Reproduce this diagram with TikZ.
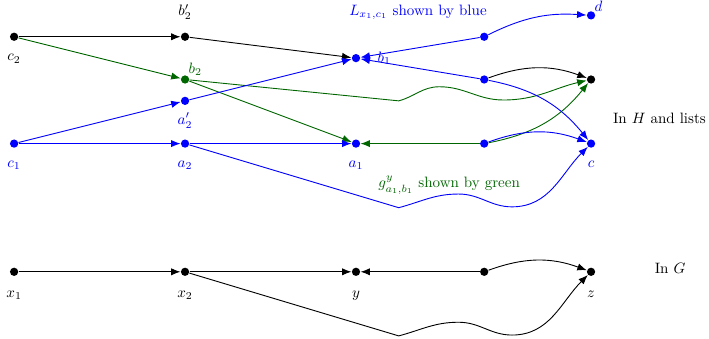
\documentclass[tikz,border=0pt]{standalone}
\usetikzlibrary{arrows.meta}
\colorlet{gpath}{green!40!black}

\begin{document}
\begin{tikzpicture}[semithick,label distance=5pt,
   dot/.style={circle,fill,inner sep=0pt,minimum size=5.5pt},
   arr/.style={-{Latex[length=2.2mm,width=1.7mm]}}]

   \useasboundingbox (-0.33,-1.57) rectangle (16.26,6.36);

   % in G
   \node[dot,label={[label distance=6pt]below:$x_1$}] (x1) at (0,0) {};
   \node[dot,label={[label distance=6pt]below:$x_2$}] (x2) at (4,0) {};
   \node[dot,label={[label distance=6pt]below:$y$}] (y) at (8,0) {};
   \node[dot] (w) at (11,0) {};
   \node[dot,label={[label distance=6pt]below:$z$}] (z) at (13.5,0) {};

   % in H
   \node[dot,label=below:$c_2$] (c2) at (0,5.5) {};
   \node[dot,label=above:$b_2'$] (b2p) at (4,5.5) {};
   \node[dot,gpath,label={[gpath,inner sep=0pt,label distance=0pt]above right:$b_2$}] (b2) at (4,4.5) {};
   \node[dot,blue,label={[blue,label distance=1.5pt]below:$a_2'$}] (a2p) at (4,4) {};
   \node[dot,blue,label={[blue]below:$c_1$}] (c1) at (0,3) {};
   \node[dot,blue,label={[blue]below:$a_2$}] (a2) at (4,3) {};
   \node[dot,blue,label={[blue]below:$a_1$}] (a1) at (8,3) {};
   \node[dot,blue,label={[blue,label distance=2.7mm]right:$b_1$}] (b1) at (8,5) {};
   \node[dot,blue] (v) at (11,5.5) {};
   \node[dot,blue] (t) at (11,4.5) {};
   \node[dot,blue] (u) at (11,3) {};
   \node[dot,blue,label={[blue,inner sep=0pt,label distance=0pt]above right:$d$}] (d) at (13.5,6) {};
   \node[dot] (e) at (13.5,4.5) {};
   \node[dot,blue,label={[blue]below:$c$}] (c) at (13.5,3) {};

   \draw [arr] (x1) -- (x2);
   \draw [arr] (x2) -- (y);
   \draw [arr] (w) -- (y);
   \draw [arr] (w) to[bend left=20] (z);
   \draw [arr] (x2) -- (9,-1.5) to[out=15,in=180] (10.4,-1.18)
      to[out=0,in=180] (11.65,-1.48) to[out=0,in=-135] (z);

   \draw [arr] (c2) -- (b2p);
   \draw [arr] (b2p) -- (b1);
   \draw [arr,gpath] (c2) -- (b2);
   \draw [arr,gpath] (b2) -- (a1);
   \draw [arr,gpath] (u) -- (a1);
   \draw [arr,gpath] (u) to[bend right=20] (e);
   \draw [arr,gpath] (b2) -- (9,4) to[out=15,in=180] (9.95,4.33)
      to[out=0,in=180] (11.45,4.02) to[out=0,in=193] (e);
   \draw [arr] (t) to[bend left=20] (e);

   \draw [arr,blue] (c1) -- (a2p);
   \draw [arr,blue] (a2p) -- (b1);
   \draw [arr,blue] (c1) -- (a2);
   \draw [arr,blue] (a2) -- (a1);
   \draw [arr,blue] (v) -- (b1);
   \draw [arr,blue] (t) -- (b1);
   \draw [arr,blue] (v) to[bend left=15] (d);
   \draw [arr,blue] (t) to[bend left=20] (c);
   \draw [arr,blue] (u) to[bend left=20] (c);
   \draw [arr,blue] (a2) -- (9,1.5) to[out=15,in=180] (10.4,1.82)
      to[out=0,in=180] (11.65,1.52) to[out=0,in=-135] (c);

   \node[blue] (Lbl) at (9.45,6.08) {$L_{x_1,c_1}$ shown by blue};
   \node[gpath] (glbl) at (10.18,2.03) {$g^y_{a_1,b_1}$ shown by green};
   \node (Hlbl) at (15.1,3.58) {In $H$ and lists};
   \node (Glbl) at (15.35,0.09) {In $G$};

\end{tikzpicture}
\end{document}
